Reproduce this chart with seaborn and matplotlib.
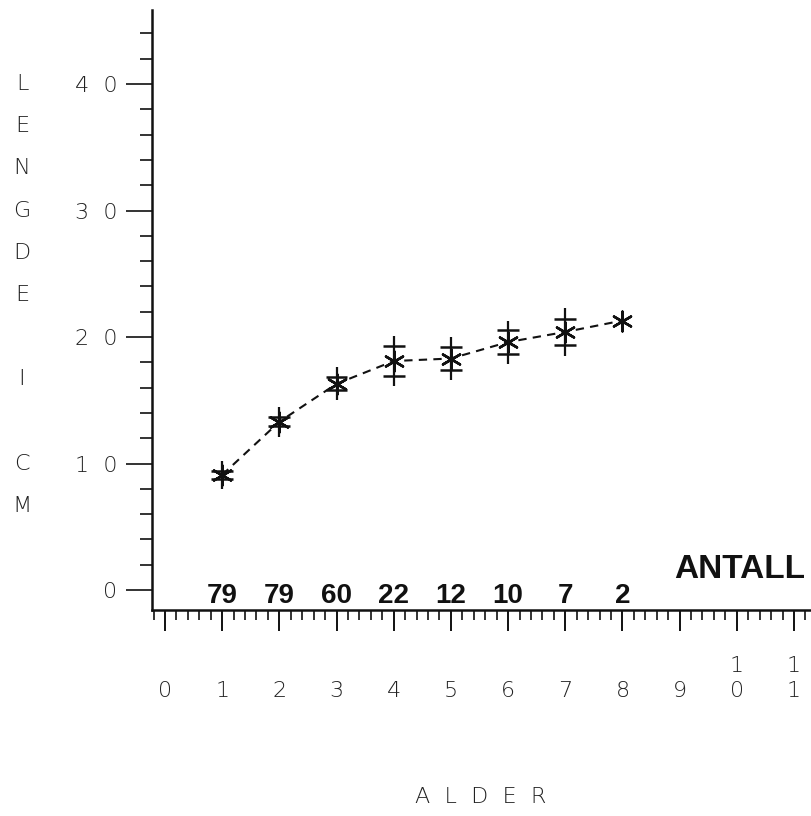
import matplotlib
matplotlib.use("Agg")
import matplotlib.pyplot as plt
import seaborn as sns
import pandas as pd
from matplotlib.ticker import MultipleLocator
from matplotlib import font_manager as fm
import matplotlib.transforms as mtrans

# ---- data ----
ages = [1, 2, 3, 4, 5, 6, 7, 8]
mean_length = [9.1, 13.3, 16.3, 18.1, 18.3, 19.6, 20.4, 21.3]
range_half = [1.1, 1.2, 1.3, 2.0, 1.7, 1.7, 1.9, 0.0]
cap_half = [0.3, 0.35, 0.5, 1.2, 0.9, 0.95, 1.05, 0.0]
counts = [79, 79, 60, 22, 12, 10, 7, 2]

x_ticks = list(range(0, 12))
x_tick_labels = ["\n0", "\n1", "\n2", "\n3", "\n4", "\n5", "\n6", "\n7", "\n8", "\n9", "1\n0", "1\n1"]
y_ticks = [0, 10, 20, 30, 40]
y_tick_labels = ["0", "1  0", "2  0", "3  0", "4  0"]
y_label = "LENGDE I CM"
x_label = "A  L  D  E  R"
count_label = "ANTALL"

sns.set_theme(style="white")
plt.rcParams["font.family"] = ["DejaVu Sans"]

names = {f.name for f in fm.fontManager.ttflist}
if "Liberation Sans Narrow" in names:
    count_family, count_size = "Liberation Sans Narrow", 22
else:
    count_family, count_size = "Liberation Sans", 20

df = pd.DataFrame({"age": ages, "mean": mean_length, "rng": range_half, "cap": cap_half})

fig = plt.figure(figsize=(8.12, 8.16), dpi=100)
fig.patch.set_facecolor("white")
ax = fig.add_axes([152 / 812, 206 / 816, 658 / 812, 600 / 816])
ax.set_facecolor("white")

ink = "#111111"
thin = "#222222"

# dashed connecting line
sns.lineplot(data=df, x="age", y="mean", ax=ax, color=ink, linewidth=1.5,
             linestyle=(0, (4, 3)), legend=False)

# vertical range lines and caps
sub = df[df["rng"] > 0]
ax.vlines(sub["age"], sub["mean"] - sub["rng"], sub["mean"] + sub["rng"], color=ink, linewidth=1.6)
subc = df[df["cap"] > 0]
for sign in (-1, 1):
    ax.hlines(subc["mean"] + sign * subc["cap"], subc["age"] - 0.19, subc["age"] + 0.19,
              color=ink, linewidth=1.8)

# asterisk markers
sns.scatterplot(data=df, x="age", y="mean", ax=ax, marker=(6, 2, 0), s=200,
                color=ink, linewidth=1.8, edgecolor=ink, zorder=5, legend=False)

# count labels
for a, n in zip(ages, counts):
    ax.text(a, -1.0, str(n), ha="center", va="baseline", fontsize=count_size,
            fontweight="bold", family=count_family, color=ink)
ax.text(11.19, 0.95, count_label, ha="right", va="baseline", fontsize=24,
        fontweight="bold", family="Liberation Sans", color=ink)

# axes limits & ticks
ax.set_xlim(-0.227, 11.28)
ax.set_ylim(-1.58, 45.85)
ax.set_xticks(x_ticks)
ax.set_xticklabels(x_tick_labels, fontsize=16, color=thin, fontweight="light",
                   linespacing=1.3)
ax.set_yticks(y_ticks)
ax.set_yticklabels(y_tick_labels, fontsize=16, color=thin, fontweight="light")
ax.xaxis.set_minor_locator(MultipleLocator(0.2))
ax.yaxis.set_minor_locator(MultipleLocator(2))
ax.tick_params(axis="x", which="major", direction="out", length=15, width=1.4,
               color=ink, pad=18, bottom=True)
ax.tick_params(axis="x", which="minor", direction="out", length=7, width=1.2,
               color=ink, bottom=True)
ax.tick_params(axis="y", which="major", direction="out", length=19, width=1.2,
               color=ink, pad=6, left=True)
ax.tick_params(axis="y", which="minor", direction="out", length=8.5, width=1.2,
               color=ink, left=True)
ax.set_xlabel("")
ax.set_ylabel("")

for s in ("top", "right"):
    ax.spines[s].set_visible(False)
for s in ("left", "bottom"):
    ax.spines[s].set_color(ink)
    ax.spines[s].set_linewidth(1.8)

# vertical stacked y label, one character per 10/3 units
trans = mtrans.blended_transform_factory(fig.transFigure, ax.transData)
for k, ch in enumerate(y_label):
    if ch.strip():
        ax.text(22 / 812, 40 - k * 10 / 3, ch, transform=trans, ha="center", va="center",
                fontsize=16, fontweight="light", color=thin)

fig.text(481 / 812, 1 - 797 / 816, x_label, ha="center", va="center", fontsize=16,
         fontweight="light", color=thin)

fig.savefig("out.png", dpi=100, facecolor="white")
